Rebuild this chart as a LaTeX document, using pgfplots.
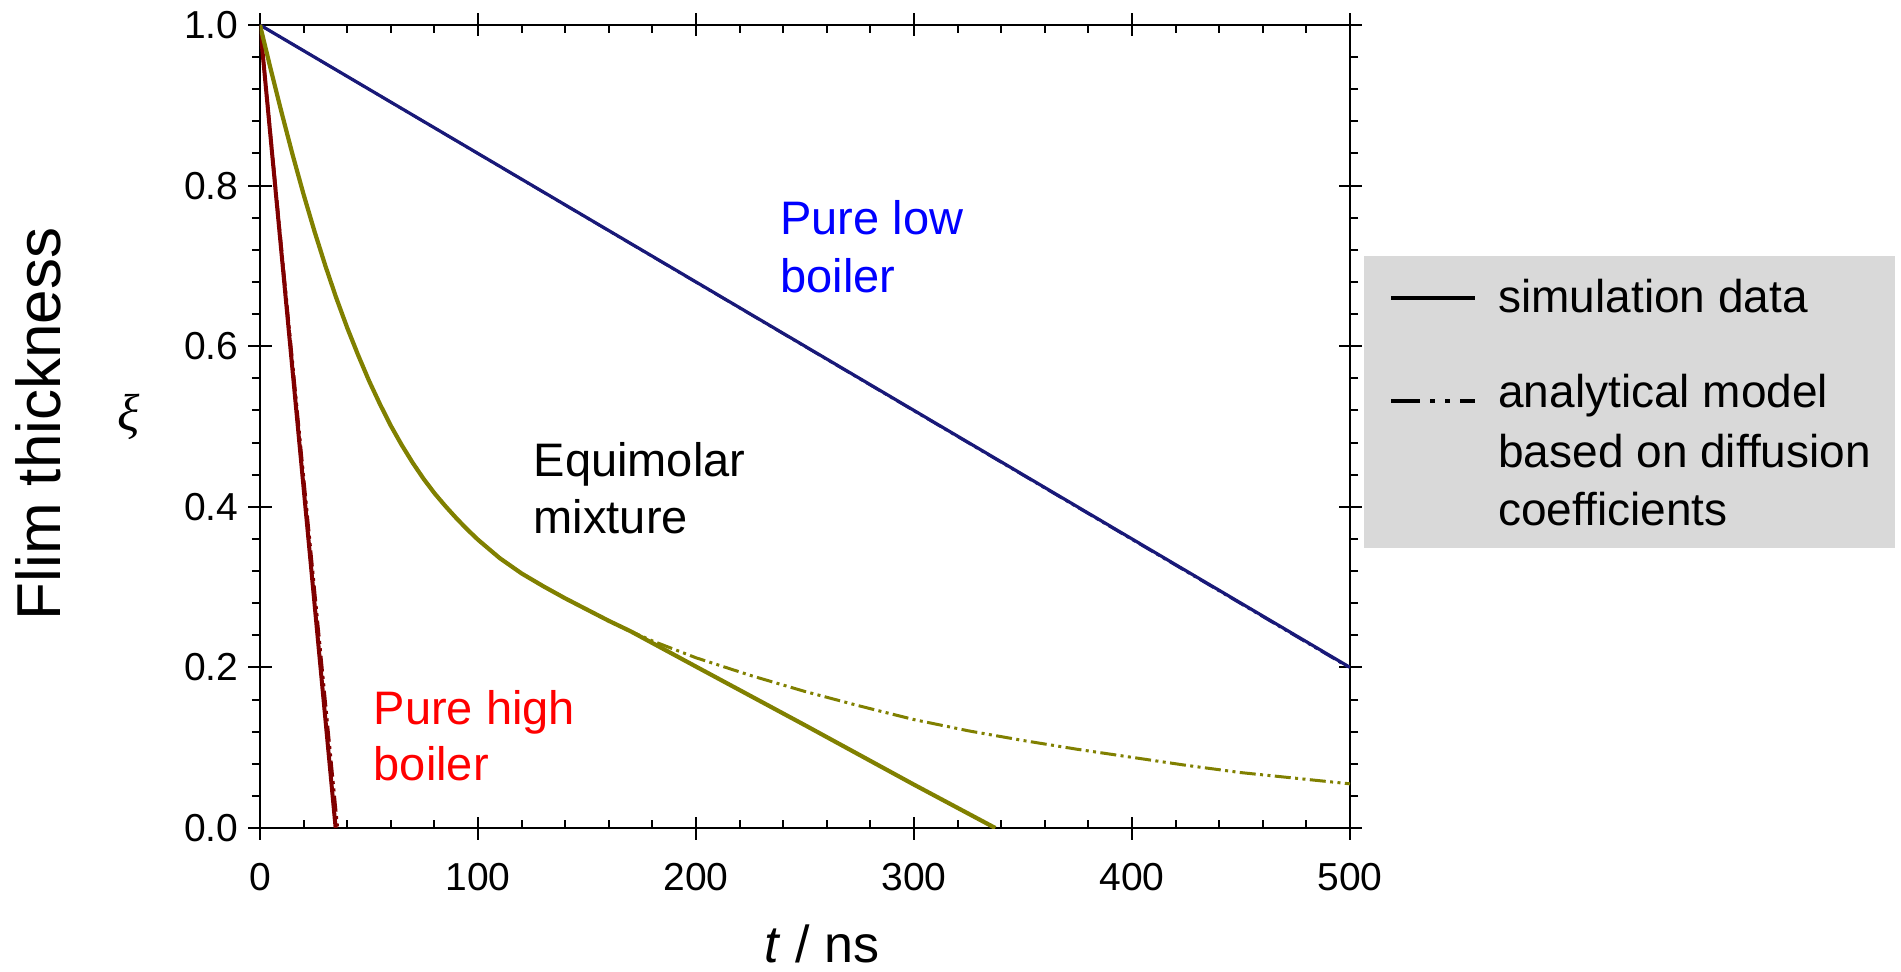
\documentclass[border=0pt]{standalone}
\usepackage{pgfplots}
\usepackage{pgfplotstable}
\pgfplotsset{compat=1.18}
\usepackage{fontspec}
\setmainfont{Liberation Sans}
\newfontfamily\serifgreek{Liberation Serif}
\definecolor{cblue}{RGB}{25,25,120}
\definecolor{cred}{RGB}{128,0,0}
\definecolor{colive}{RGB}{128,128,0}
\definecolor{legbg}{RGB}{217,217,217}
\tikzset{ddot/.style={dash pattern=on 8pt off 2.2pt on 1.5pt off 2.2pt on 1.5pt off 2.2pt}}

\pgfplotstableread{
t xi
0 1.000
5 0.944
10 0.890
15 0.838
20 0.789
25 0.743
30 0.700
35 0.660
40 0.623
45 0.589
50 0.557
55 0.528
60 0.501
65 0.477
70 0.455
75 0.435
80 0.417
85 0.401
90 0.386
95 0.372
100 0.359
110 0.336
120 0.317
130 0.301
140 0.286
150 0.272
160 0.258
170 0.245
200 0.201
250 0.128
300 0.054
337.3 0.000
}\olivesim

\pgfplotstableread{
t xi
0 1.000
5 0.944
10 0.890
15 0.838
20 0.789
25 0.743
30 0.700
35 0.660
40 0.623
45 0.589
50 0.557
55 0.528
60 0.501
65 0.477
70 0.455
75 0.435
80 0.417
85 0.401
90 0.386
95 0.372
100 0.359
110 0.336
120 0.317
130 0.301
140 0.286
150 0.272
160 0.258
170 0.245
180 0.233
200 0.212
225 0.190
250 0.170
275 0.152
300 0.135
325 0.121
350 0.109
375 0.098
400 0.088
425 0.078
450 0.069
475 0.062
500 0.055
}\oliveana

\begin{document}
\begin{tikzpicture}
\useasboundingbox (-130pt,-71.5pt) rectangle (820.5pt,414pt);
% minor ticks on x (inside)
\begin{axis}[at={(0,0)}, anchor=south west, scale only axis,
  width=545pt, height=401.5pt,
  xmin=0, xmax=500, ymin=0, ymax=1,
  xtick={0,100,200,300,400,500}, ytick=\empty,
  minor x tick num=4, tick align=inside, tick pos=both,
  major tick length=0pt, minor tick length=4pt,
  minor tick style={line width=1pt, black},
  xticklabels={}, axis line style={draw=none}]
\end{axis}
% minor ticks on y (outside)
\begin{axis}[at={(0,0)}, anchor=south west, scale only axis,
  width=545pt, height=401.5pt,
  xmin=0, xmax=500, ymin=0, ymax=1,
  ytick={0,0.2,0.4,0.6,0.8,1}, xtick=\empty,
  minor y tick num=4, tick align=outside, tick pos=both,
  major tick length=0pt, minor tick length=4pt,
  minor tick style={line width=1pt, black},
  yticklabels={}, axis line style={draw=none}]
\end{axis}
\begin{axis}[at={(0,0)}, anchor=south west, scale only axis,
  width=545pt, height=401.5pt,
  xmin=0, xmax=500, ymin=0, ymax=1,
  xtick={0,100,200,300,400,500},
  ytick={0,0.2,0.4,0.6,0.8,1},
  tick align=center, tick pos=both, ticklabel pos=left,
  major tick length=11.5pt,
  major tick style={line width=1pt, black},
  axis line style={line width=1pt},
  /pgf/number format/assume math mode=true,
  tick label style={font=\fontsize{19.5}{23}\selectfont},
  xticklabel style={yshift=-8.5pt},
  yticklabel style={xshift=-1.5pt,/pgf/number format/fixed,/pgf/number format/fixed zerofill,/pgf/number format/precision=1},
  line join=round]
\addplot[cblue, line width=1.3pt, ddot] coordinates {(0,1) (500,0.199)};
\addplot[cblue, line width=1.6pt] coordinates {(0,1) (500,0.2)};
\addplot[cred, line width=1.5pt, ddot] coordinates {(0,1) (35.6,0)};
\addplot[cred, line width=2pt] coordinates {(0,1) (34.7,0)};
\addplot[colive, line width=1.5pt, ddot] table[x=t,y=xi] {\oliveana};
\addplot[colive, line width=2.1pt] table[x=t,y=xi] {\olivesim};
\end{axis}

% annotations
\begin{scope}[every node/.style={inner sep=0pt, anchor=base west, font=\fontsize{23.5}{28}\selectfont}]
\node[text=blue] at (260pt,296.5pt) {Pure low};
\node[text=blue] at (260pt,268pt) {boiler};
\node[text=black] at (136.7pt,175.7pt) {Equimolar};
\node[text=black] at (136.7pt,147.3pt) {mixture};
\node[text=red] at (56.7pt,52pt) {Pure high};
\node[text=red] at (56.7pt,24pt) {boiler};
\end{scope}

% axis labels
\node[inner sep=0pt, anchor=base, font=\fontsize{26}{30}\selectfont] at (281pt,-67pt) {\textit{t} / ns};
\node[inner sep=0pt, anchor=base, rotate=90, font=\fontsize{31}{36}\selectfont] at (-99.5pt,202pt) {Flim thickness};
\node[inner sep=0pt, font=\serifgreek\itshape\fontsize{26}{30}\selectfont] at (-65.5pt,205.5pt) {ξ};

% legend
\fill[legbg] (552pt,140pt) rectangle (817.5pt,286pt);
\draw[black, line width=2pt] (565.5pt,265.2pt) -- (607.5pt,265.2pt);
\draw[black, line width=2pt, dash pattern=on 14.5pt off 5pt on 2.5pt off 5pt on 2.5pt off 5pt] (565.5pt,213.7pt) -- (607.5pt,213.7pt);
\begin{scope}[every node/.style={inner sep=0pt, anchor=base west, font=\fontsize{23}{28}\selectfont}]
\node at (619pt,258pt) {simulation data};
\node at (619pt,210.5pt) {analytical model};
\node at (619pt,180.5pt) {based on diffusion};
\node at (619pt,151.5pt) {coefficients};
\end{scope}
\end{tikzpicture}
\end{document}
